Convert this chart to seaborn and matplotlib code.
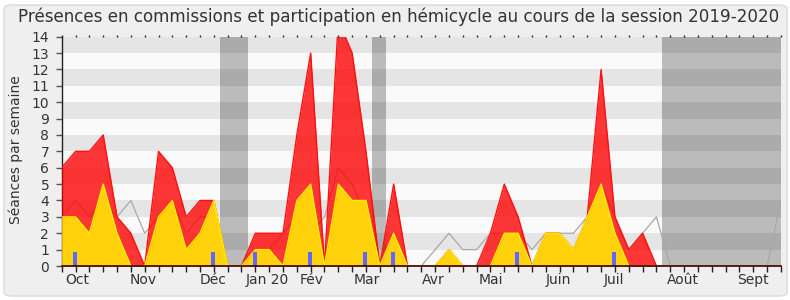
import numpy as np
import pandas as pd
import matplotlib
matplotlib.use("Agg")
import matplotlib.pyplot as plt
from matplotlib.patches import FancyBboxPatch
import seaborn as sns

# ---- data (weekly values, session 2019-2020) ----
weeks = list(range(53))
commission = [6, 7, 7, 8, 3, 2, 0, 7, 6, 3, 4, 4, 0, 0, 2, 2, 2, 8, 13, 0,
              15, 13, 7, 0, 5, 0, 0, 0, 1, 0, 0, 2, 5, 3, 0, 2, 2, 1, 3, 12,
              3, 1, 2, 0, 0, 0, 0, 0, 0, 0, 0, 0, 0]
hemicycle = [3, 3, 2, 5, 2, 0, 0, 3, 4, 1, 2, 4, 0, 0, 1, 1, 0, 4, 5, 0,
             5, 4, 4, 0, 2, 0, 0, 0, 1, 0, 0, 0, 2, 2, 0, 2, 2, 1, 3, 5,
             2, 0, 0, 0, 0, 0, 0, 0, 0, 0, 0, 0, 0]
mediane = [3, 4, 3, 4, 3, 4, 2, 3, 4, 2, 3, 3, 0, 0, 1, 1, 2, 3, 2, 3,
           6, 5, 3, 0, 2, 0, 0, 1, 2, 1, 1, 2, 2, 2, 1, 2, 2, 2, 3, 5,
           3, 1, 2, 3, 0, 0, 0, 0, 0, 0, 0, 0, 4]
question_weeks = [1, 11, 14, 18, 22, 24, 33, 40]
questions = [1, 1, 1, 1, 1, 1, 1, 1]
vacances = [(11.45, 13.5), (22.43, 23.45), (43.4, 52)]
month_labels = ["Oct", "Nov", "Déc", "Jan 20", "Fév", "Mar", "Avr", "Mai",
                "Juin", "Juil", "Août", "Sept"]
month_pos = [1.1, 5.9, 10.95, 14.85, 18.1, 22.05, 26.9, 31.05, 35.9, 39.9,
             44.9, 49.95]

df = pd.DataFrame({"semaine": weeks, "commission": commission,
                   "hemicycle": hemicycle, "mediane": mediane})
dq = pd.DataFrame({"semaine": question_weeks, "questions": questions})

sns.set_style("white")
plt.rcParams["font.family"] = ["DejaVu Sans"]

W, H = 790, 300
fig = plt.figure(figsize=(W / 100, H / 100), dpi=100)
fig.patch.set_facecolor("white")
bg = FancyBboxPatch((4 / W, 4 / H), 783 / W, 291 / H,
                    boxstyle="round,pad=0,rounding_size=0.012",
                    transform=fig.transFigure, facecolor="#efefef",
                    edgecolor="#dedede", linewidth=1.2, zorder=-10)
fig.patches.append(bg)

x0, x1 = 61.7, 780.9
y0, y1 = 266, 36.7
ax = fig.add_axes([x0 / W, (H - y0) / H, (x1 - x0) / W, (y0 - y1) / H])
ax.set_facecolor("#fafafa")
ax.set_xlim(0, 52)
ax.set_ylim(0, 14)

# stripes
for k in range(7):
    ax.axhspan(2 * k + 1, 2 * k + 2, color="#e5e5e5", lw=0, zorder=0)
# holiday bands
for a, b in vacances:
    ax.axvspan(a, b, color="black", alpha=0.25, lw=0, zorder=1)

# median line
sns.lineplot(data=df, x="semaine", y="mediane", ax=ax, color="#a8a8a8",
             lw=0.9, zorder=2, legend=False)
# commissions (red)
ax.fill_between(df["semaine"], df["commission"], color="#ff0000", alpha=0.78,
                lw=0, zorder=3)
sns.lineplot(data=df, x="semaine", y="commission", ax=ax, color="#ff1010",
             lw=1.0, zorder=4, legend=False)
# hemicycle (yellow)
ax.fill_between(df["semaine"], df["hemicycle"], color="#ffd20c", lw=0,
                zorder=5)
sns.lineplot(data=df, x="semaine", y="hemicycle", ax=ax, color="#ffee00",
             lw=1.0, zorder=6, legend=False)
# questions (blue)
ax.bar(dq["semaine"] - 0.05, dq["questions"] * 0.85, width=0.3,
       color="#6464ff", lw=0, zorder=7)

ax.set_xlabel("")
ax.set_ylabel("Séances par semaine", fontsize=10, color="#333333")
ax.yaxis.set_label_coords(-(x0 - 23) / (x1 - x0), (y0 - 150) / (y0 - y1))

for s in ["top", "right"]:
    ax.spines[s].set_visible(False)
ax.spines["left"].set_color("#222222")
ax.spines["left"].set_linewidth(1)
ax.spines["bottom"].set_color("#3a0000")
ax.spines["bottom"].set_linewidth(1.2)
ax.spines["bottom"].set_zorder(10)

ax.set_yticks(range(15))
ax.set_yticklabels([str(i) for i in range(15)])
ax.tick_params(axis="y", left=True, length=4, width=1, color="#555555",
               pad=5, labelsize=10, labelcolor="#333333")
ax.set_xticks(weeks)
ax.set_xticklabels([])
ax.tick_params(axis="x", which="major", bottom=True, length=4.5, width=1,
               color="#222222")
ax.set_xticks(month_pos, minor=True)
ax.set_xticklabels(month_labels, minor=True)
ax.tick_params(axis="x", which="minor", bottom=True, length=0, pad=5,
               labelsize=10, labelcolor="#333333")

sec = ax.secondary_xaxis("top")
sec.set_xticks(weeks)
sec.set_xticklabels([])
sec.tick_params(length=1.5, width=1, color="#222222", direction="out")
sec.spines["top"].set_visible(False)

fig.text(398.5 / W, 1 - 17 / H,
         "Présences en commissions et participation en hémicycle au cours de la session 2019-2020",
         ha="center", va="center", fontsize=12.1, color="#333333")

fig.savefig("out.png", dpi=100, facecolor=fig.get_facecolor())
